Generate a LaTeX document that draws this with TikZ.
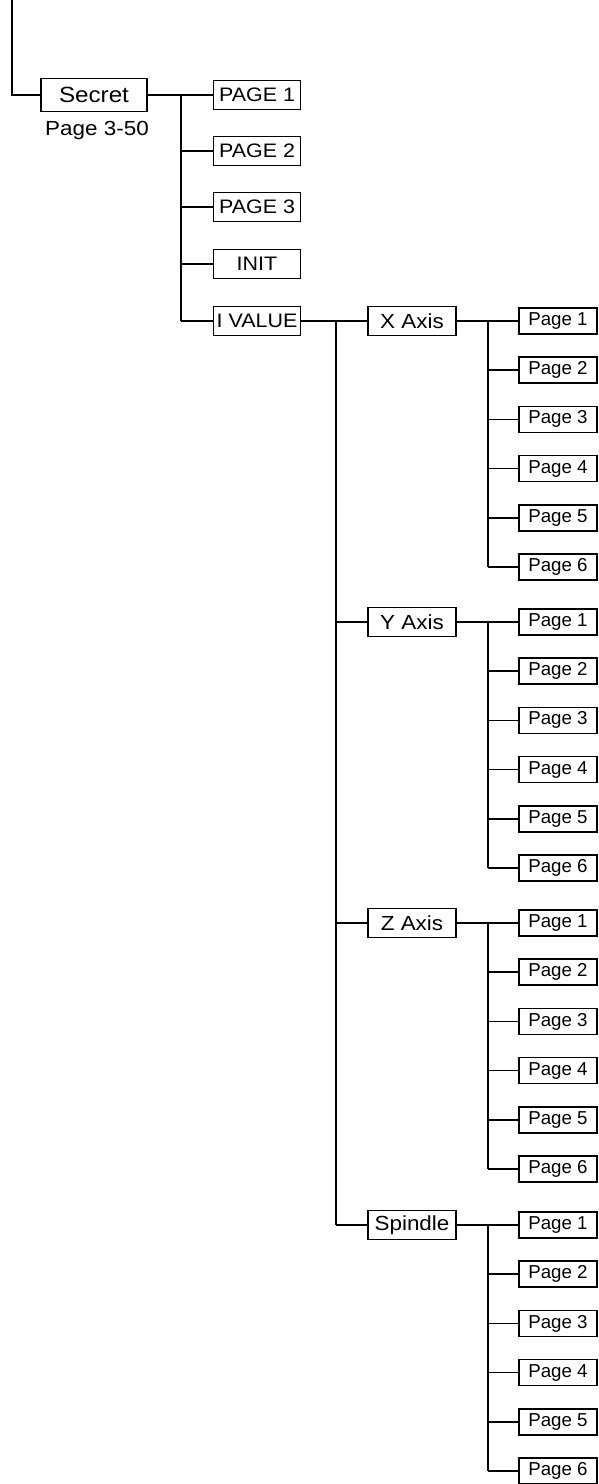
\documentclass[tikz,border=0pt]{standalone}
\usepackage{fontspec}
\setmainfont{Liberation Sans}
\newfontfamily\widefont[FakeStretch=1.1]{Liberation Sans}
\begin{document}
\begin{tikzpicture}[x=1pt,y=-1pt,
  line width=1.6pt,
  box/.style={draw, line width=1.6pt, inner sep=0pt, anchor=center},
  secretbox/.style={box, minimum width=106pt, minimum height=33pt, font=\widefont\fontsize{22}{22}\selectfont},
  topbox/.style={box, minimum width=87pt, minimum height=29pt, font=\widefont\fontsize{19.5}{19.5}\selectfont},
  axisbox/.style={box, minimum width=88pt, minimum height=29pt, font=\widefont\fontsize{20.4}{20.4}\selectfont},
  pagebox/.style={box, minimum width=78pt, minimum height=26pt, font=\fontsize{18.7}{18.7}\selectfont},
  lbl/.style={inner sep=0pt, font=\widefont\fontsize{20.4}{20.4}\selectfont}
]
\useasboundingbox (0,0) rectangle (598,1484);

% top entry
\coordinate (top) at (12,0);
\node[secretbox] (secret) at (94,95) {Secret};
\node[lbl] (secretpg) at (97,130) {Page 3-50};
\draw (top) |- (secret.west);

% first level
\foreach \n/\t/\y in {t1/PAGE 1/95, t2/PAGE 2/151, t3/PAGE 3/207, t4/INIT/264, t5/I VALUE/321}{
  \node[topbox] (\n) at (257,\y) {\t};
  \coordinate (j\n) at (181,\y);
  \draw (j\n) -- (\n.west);
}
\draw (secret.east) -- (jt1);
\draw (jt1) -- (jt5);

% axes
\foreach \a/\t/\y in {ax/X Axis/321, ay/Y Axis/622, az/Z Axis/923, as/Spindle/1225}{
  \node[axisbox] (\a) at (412,\y) {\t};
  \coordinate (j\a) at (336,\y);
  \draw (j\a) -- (\a.west);
  \coordinate (k\a) at (488,\y);
  \draw (\a.east) -- (k\a);
  \foreach \k in {0,...,5}{
    \pgfmathsetmacro{\py}{\y+49.2*\k}
    \pgfmathtruncatemacro{\pn}{\k+1}
    \node[pagebox] (\a p\pn) at (558,\py) {Page \pn};
    \coordinate (k\a\pn) at (488,\py);
    \draw (k\a\pn) -- (\a p\pn.west);
  }
  \draw (k\a) -- (k\a6);
}
\draw (t5.east) -- (jax);
\draw (jax) -- (jas);
\end{tikzpicture}
\end{document}
